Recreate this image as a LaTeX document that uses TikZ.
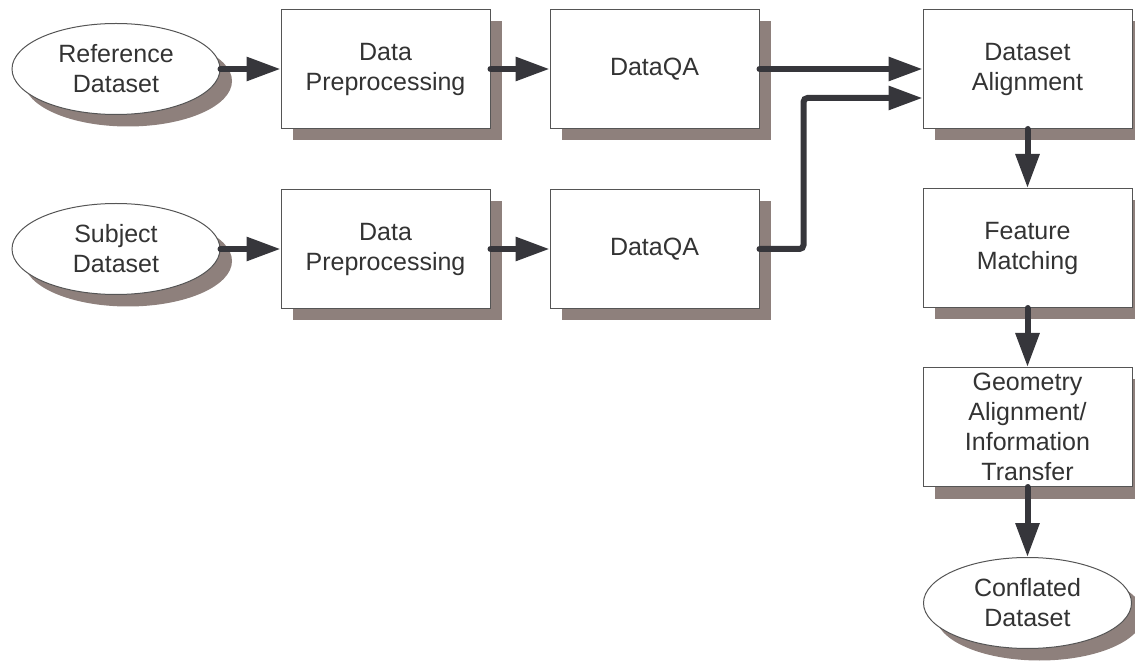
\documentclass[tikz,border=0pt]{standalone}
\usepackage{fontspec}
\setmainfont{Liberation Sans}
\usepackage{tikz}
\usetikzlibrary{positioning, arrows.meta, shadows, shapes.geometric}

\definecolor{shadowc}{HTML}{8E807C}
\definecolor{linec}{HTML}{36363B}
\definecolor{txtc}{HTML}{333333}
\definecolor{edgec}{HTML}{555555}

\begin{document}
\begin{tikzpicture}[
    x=0.5pt, y=-0.5pt,
    node distance=30pt,
    every node/.style={font=\fontsize{12.5}{15}\selectfont, text=txtc},
    boxshadow/.style={general shadow={fill=shadowc, shadow xshift=6pt, shadow yshift=-6pt}},
    block/.style={rectangle, draw=edgec, line width=0.5pt, fill=white, minimum width=104.5pt, minimum height=59.5pt, inner sep=0pt, align=center, boxshadow},
    data/.style={ellipse, draw=edgec, line width=0.5pt, fill=white, minimum width=104pt, minimum height=45.5pt, inner sep=0pt, align=center, boxshadow},
    arr/.style={-{Triangle[length=17pt, width=11.5pt]}, line width=3pt, line cap=round, draw=linec},
]
    \useasboundingbox (0,0) rectangle (1135,662);

    % reference branch
    \node[data] (refds) at (116,69) {Reference\\Dataset};
    \node[block, right=30pt of refds] (prep1) {Data\\Preprocessing};
    \node[block, right=29.5pt of prep1] (qa1) {DataQA};
    \node[block, right=81.5pt of qa1] (align) {Dataset\\Alignment};

    % subject branch
    \node[block, below=30pt of prep1] (prep2) {Data\\Preprocessing};
    \node[data, left=30pt of prep2] (subjds) {Subject\\Dataset};
    \node[block, right=29.5pt of prep2] (qa2) {DataQA};

    % conflation chain
    \node[block, below=29.5pt of align] (feat) {Feature\\Matching};
    \node[block, below=29.5pt of feat] (geo) {Geometry\\Alignment/\\Information\\Transfer};
    \node[data, below=35pt of geo] (conf) {Conflated\\Dataset};

    \draw[arr] (refds) -- (prep1);
    \draw[arr] (prep1) -- (qa1);
    \draw[arr] (qa1) -- (align);
    \draw[arr] (subjds) -- (prep2);
    \draw[arr] (prep2) -- (qa2);
    \draw[arr, rounded corners=2pt] (qa2.east) -- ++(22pt,0) |- ([yshift=-14.5pt]align.west);
    \draw[arr] (align) -- (feat);
    \draw[arr] (feat) -- (geo);
    \draw[arr] (geo) -- (conf);
\end{tikzpicture}
\end{document}
